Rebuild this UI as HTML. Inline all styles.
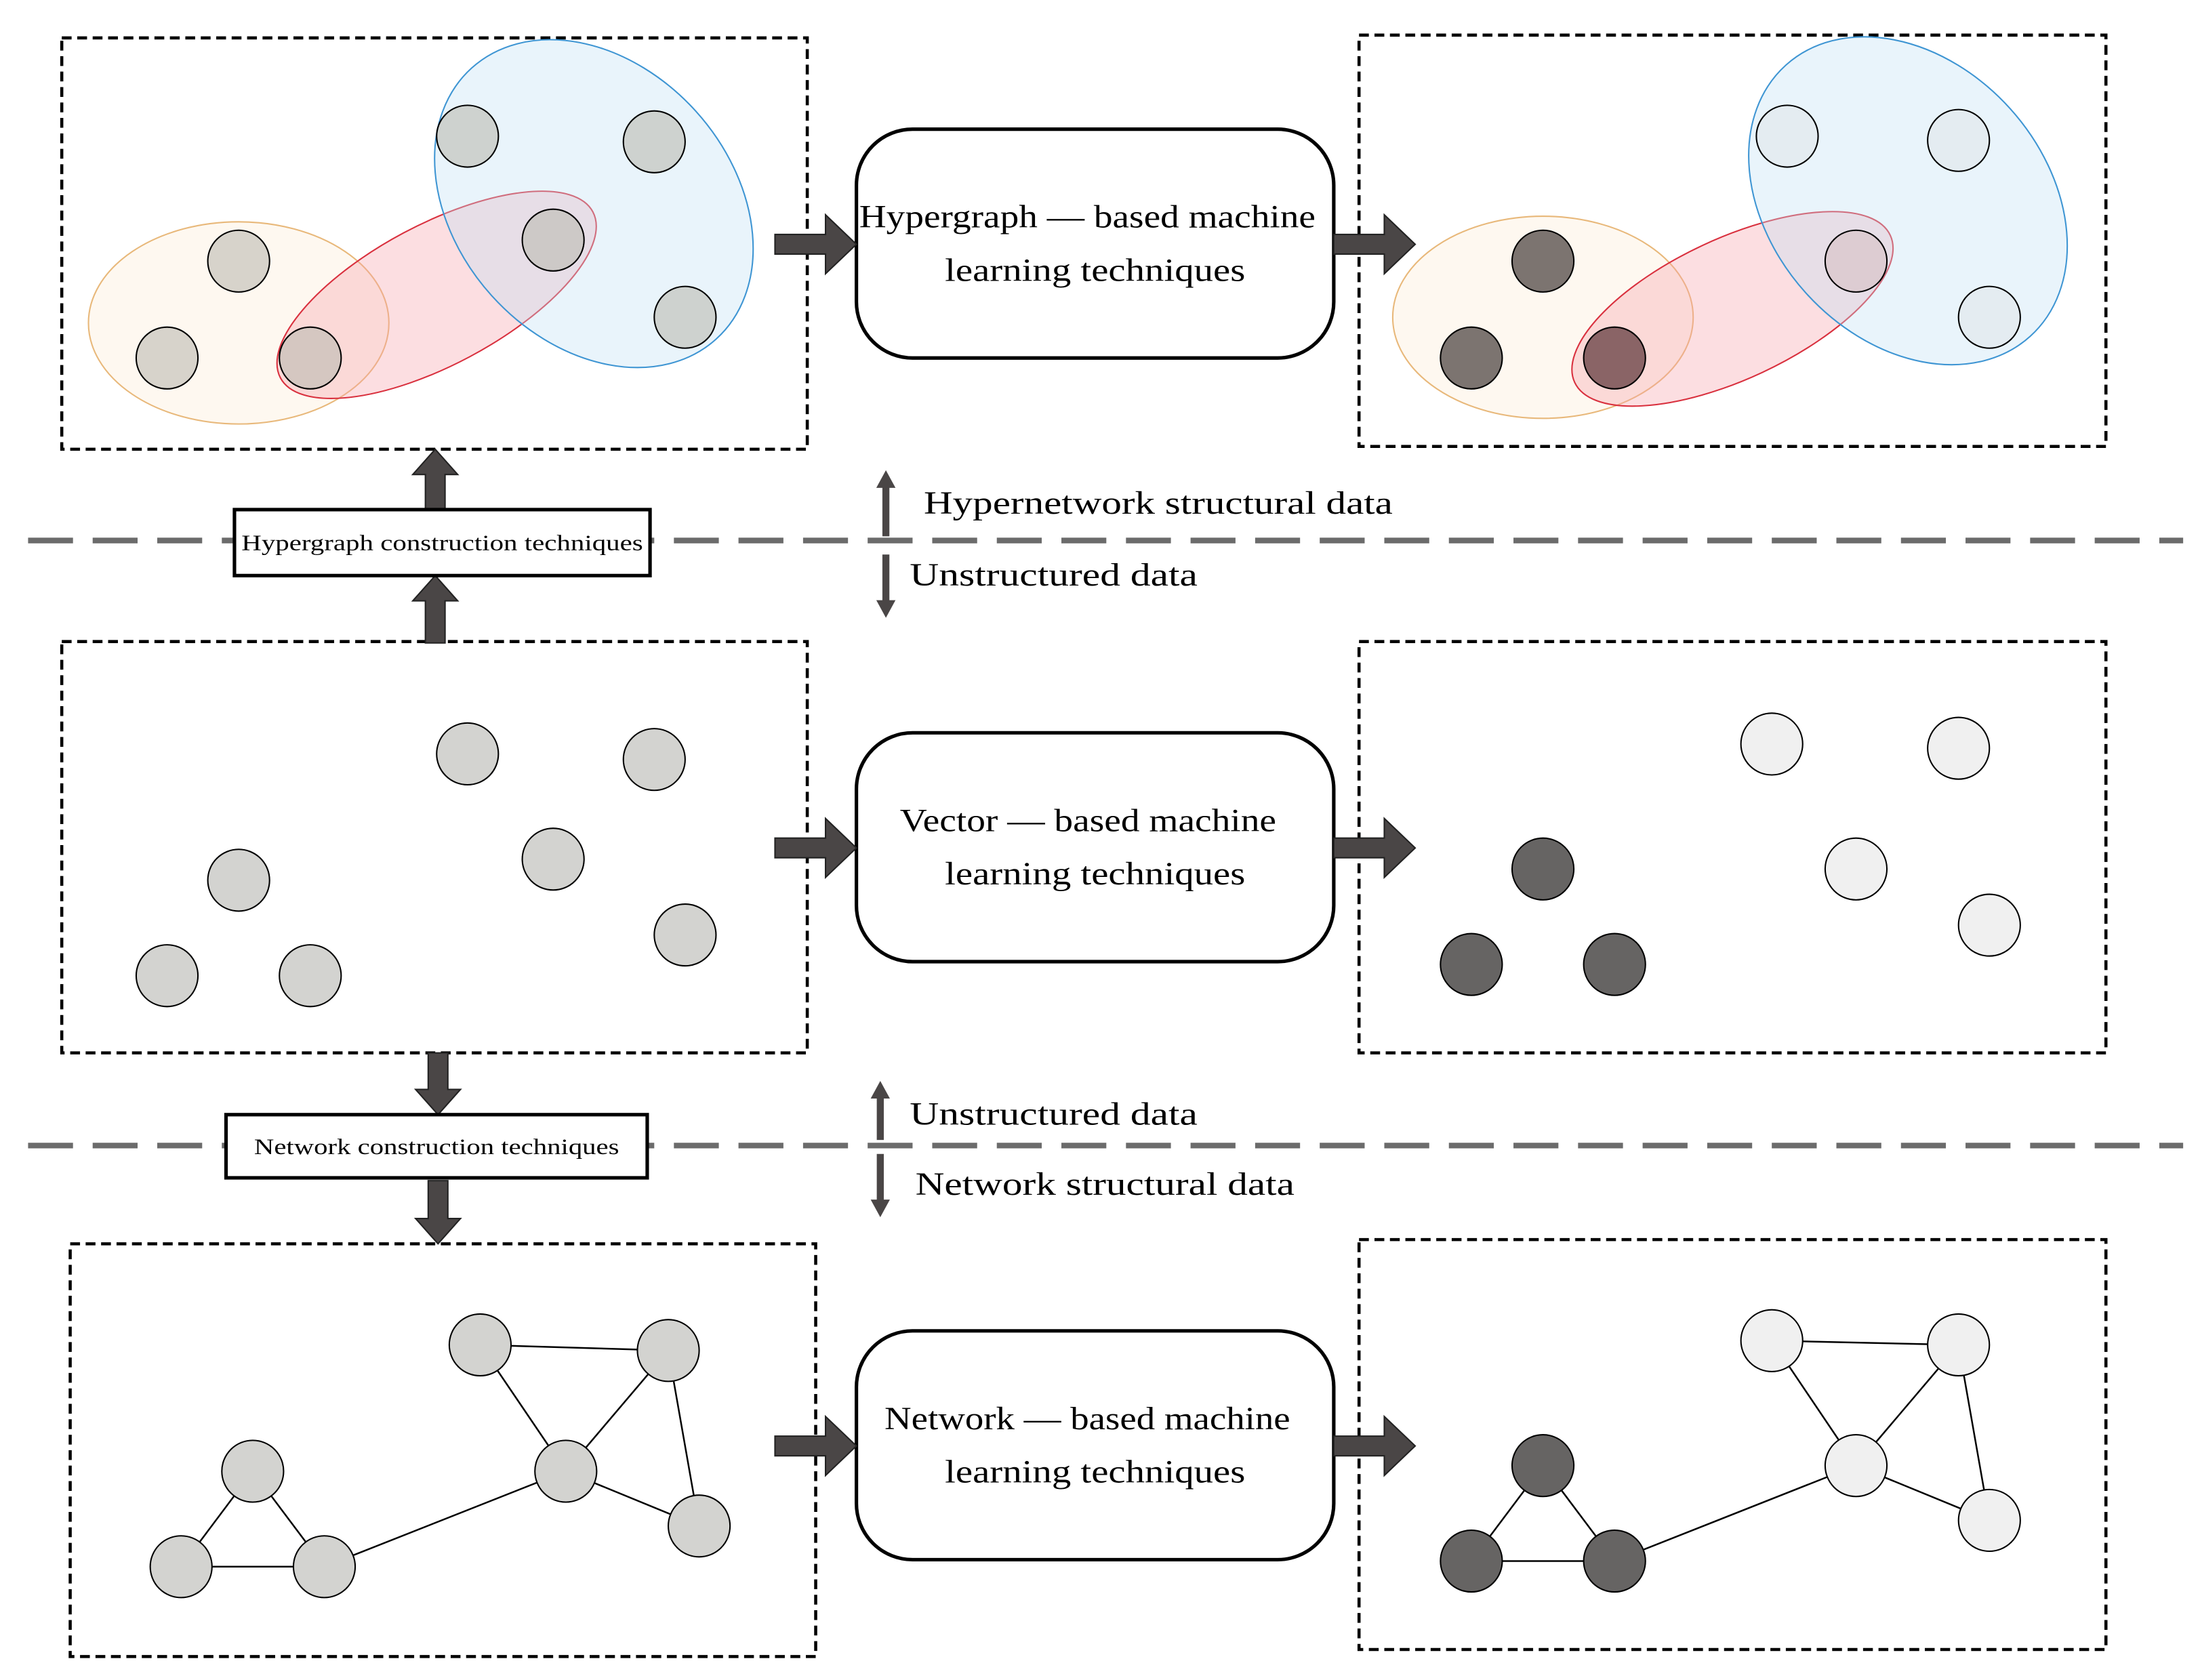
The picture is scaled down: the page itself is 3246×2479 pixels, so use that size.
<!DOCTYPE html>
<html><head><meta charset="utf-8"><style>html,body{margin:0;padding:0;background:#fff}svg{display:block}</style></head>
<body>
<svg width="3246" height="2479" viewBox="0 0 1567 1196.7" xmlns="http://www.w3.org/2000/svg" font-family="'Liberation Serif', serif">
<defs>
<g id="fatR"><polygon points="0,-7 36,-7 36,-21 58,0 36,21 36,7 0,7" fill="#4a4646" stroke="#222" stroke-width="1"/></g>
</defs>
<g fill="none" stroke="#000" stroke-width="2.2" stroke-dasharray="7,4">
<rect x="44" y="27" width="531" height="293"/>
<rect x="968" y="25" width="532" height="293"/>
<rect x="44" y="457" width="531" height="293"/>
<rect x="968" y="457" width="532" height="293"/>
<rect x="50" y="886" width="531" height="294"/>
<rect x="968" y="883" width="532" height="292"/>
</g>
<g stroke="#6b6b6b" stroke-width="4" stroke-dasharray="32,14">
<line x1="20" y1="385" x2="1555" y2="385"/>
<line x1="20" y1="816" x2="1555" y2="816"/>
</g>
<g fill="#fff" stroke="#000" stroke-width="2.5">
<rect x="610" y="92" width="340" height="163" rx="40"/>
<rect x="610" y="522" width="340" height="163" rx="40"/>
<rect x="610" y="948" width="340" height="163" rx="40"/>
</g>
<g font-size="23" fill="#000" lengthAdjust="spacingAndGlyphs">
<text x="612" y="162" textLength="325" lengthAdjust="spacingAndGlyphs">Hypergraph — based machine</text>
<text x="673" y="200" textLength="214" lengthAdjust="spacingAndGlyphs">learning techniques</text>
<text x="641" y="592" textLength="268" lengthAdjust="spacingAndGlyphs">Vector — based machine</text>
<text x="673" y="630" textLength="214" lengthAdjust="spacingAndGlyphs">learning techniques</text>
<text x="630" y="1018" textLength="289" lengthAdjust="spacingAndGlyphs">Network — based machine</text>
<text x="673" y="1056" textLength="214" lengthAdjust="spacingAndGlyphs">learning techniques</text>
</g>
<use href="#fatR" x="552" y="174"/><use href="#fatR" x="950" y="174"/>
<use href="#fatR" x="552" y="604"/><use href="#fatR" x="950" y="604"/>
<use href="#fatR" x="552" y="1030"/><use href="#fatR" x="950" y="1030"/>
<g fill="#4a4646" stroke="#222" stroke-width="1">
<polygon points="303,363 303,338 294,338 310,320 326,338 317,338 317,363"/>
<polygon points="303,458 303,428 294,428 310,410 326,428 317,428 317,458"/>
<polygon points="305,750 305,776 296,776 312,794 328,776 319,776 319,750"/>
<polygon points="305,841 305,868 296,868 312,886 328,868 319,868 319,841"/>
</g>
<rect x="167" y="363" width="296" height="47" fill="#fff" stroke="#000" stroke-width="2.5"/>
<text x="172" y="392" font-size="16" textLength="286" lengthAdjust="spacingAndGlyphs">Hypergraph construction techniques</text>
<rect x="161" y="794" width="300" height="45" fill="#fff" stroke="#000" stroke-width="2.5"/>
<text x="181" y="822" font-size="16" textLength="260" lengthAdjust="spacingAndGlyphs">Network construction techniques</text>
<g fill="#4a4646" stroke="#4a4646">
<line x1="631" y1="382" x2="631" y2="346" stroke-width="5"/><polygon points="625,347 637,347 631,336"/>
<line x1="631" y1="395" x2="631" y2="429" stroke-width="5"/><polygon points="625,428 637,428 631,439"/>
<line x1="627" y1="812" x2="627" y2="781" stroke-width="5"/><polygon points="621,782 633,782 627,771"/>
<line x1="627" y1="822" x2="627" y2="856" stroke-width="5"/><polygon points="621,855 633,855 627,866"/>
</g>
<g font-size="23" fill="#000">
<text x="658" y="366" textLength="334" lengthAdjust="spacingAndGlyphs">Hypernetwork structural data</text>
<text x="648" y="417" textLength="205" lengthAdjust="spacingAndGlyphs">Unstructured data</text>
<text x="648" y="801" textLength="205" lengthAdjust="spacingAndGlyphs">Unstructured data</text>
<text x="652" y="851" textLength="270" lengthAdjust="spacingAndGlyphs">Network structural data</text>
</g>
<g stroke-width="1">
<ellipse cx="170" cy="230" rx="107" ry="72" fill="#fdf3e6" fill-opacity="0.6" stroke="#e8b87a"/>
<ellipse cx="311" cy="210" rx="126" ry="50" transform="rotate(-28 311 210)" fill="#f5a0a8" fill-opacity="0.35" stroke="#d9303e"/>
<ellipse cx="423" cy="145" rx="98" ry="130" transform="rotate(-42 423 145)" fill="#bfdff3" fill-opacity="0.35" stroke="#3e95d3"/>
<ellipse cx="1099" cy="226" rx="107" ry="72" fill="#fdf3e6" fill-opacity="0.6" stroke="#e8b87a"/>
<ellipse cx="1234" cy="220" rx="124" ry="50" transform="rotate(-25 1234 220)" fill="#f5a0a8" fill-opacity="0.35" stroke="#d9303e"/>
<ellipse cx="1359" cy="143" rx="98" ry="130" transform="rotate(-42 1359 143)" fill="#bfdff3" fill-opacity="0.35" stroke="#3e95d3"/>
</g>
<g stroke="#000" stroke-width="1" fill="#bdbab3" fill-opacity="0.6">
<circle cx="170" cy="186" r="22"/><circle cx="119" cy="255" r="22"/><circle cx="221" cy="255" r="22"/>
<circle cx="333" cy="97" r="22"/><circle cx="466" cy="101" r="22"/><circle cx="394" cy="171" r="22"/><circle cx="488" cy="226" r="22"/>
</g>
<g stroke="#000" stroke-width="1">
<circle cx="1099" cy="186" r="22" fill="#7c7470"/><circle cx="1048" cy="255" r="22" fill="#7c7470"/><circle cx="1150" cy="255" r="22" fill="#8a6466"/>
<circle cx="1273" cy="97" r="22" fill="#e4ecf1"/><circle cx="1395" cy="100" r="22" fill="#e4ecf1"/><circle cx="1322" cy="186" r="22" fill="#ddccd2"/><circle cx="1417" cy="226" r="22" fill="#e4ecf1"/>
</g>
<g stroke="#000" stroke-width="1" fill="#d3d3d0">
<circle cx="333" cy="537" r="22"/><circle cx="466" cy="541" r="22"/><circle cx="170" cy="627" r="22"/>
<circle cx="394" cy="612" r="22"/><circle cx="488" cy="666" r="22"/><circle cx="119" cy="695" r="22"/><circle cx="221" cy="695" r="22"/>
</g>
<g stroke="#000" stroke-width="1" fill="#f0f0f0">
<circle cx="1262" cy="530" r="22"/><circle cx="1395" cy="533" r="22"/><circle cx="1322" cy="619" r="22"/><circle cx="1417" cy="659" r="22"/>
</g>
<g stroke="#000" stroke-width="1" fill="#666463">
<circle cx="1099" cy="619" r="22"/><circle cx="1048" cy="687" r="22"/><circle cx="1150" cy="687" r="22"/>
</g>
<g stroke="#000" stroke-width="1.2">
<line x1="180" y1="1048" x2="129" y2="1116"/><line x1="180" y1="1048" x2="231" y2="1116"/><line x1="129" y1="1116" x2="231" y2="1116"/>
<line x1="231" y1="1116" x2="403" y2="1048"/><line x1="403" y1="1048" x2="342" y2="958"/><line x1="403" y1="1048" x2="476" y2="962"/>
<line x1="342" y1="958" x2="476" y2="962"/><line x1="403" y1="1048" x2="498" y2="1087"/><line x1="476" y1="962" x2="498" y2="1087"/>
<line x1="1099" y1="1044" x2="1048" y2="1112"/><line x1="1099" y1="1044" x2="1150" y2="1112"/><line x1="1048" y1="1112" x2="1150" y2="1112"/>
<line x1="1150" y1="1112" x2="1322" y2="1044"/><line x1="1322" y1="1044" x2="1262" y2="955"/><line x1="1322" y1="1044" x2="1395" y2="958"/>
<line x1="1262" y1="955" x2="1395" y2="958"/><line x1="1322" y1="1044" x2="1417" y2="1083"/><line x1="1395" y1="958" x2="1417" y2="1083"/>
</g>
<g stroke="#000" stroke-width="1" fill="#d3d3d0">
<circle cx="342" cy="958" r="22"/><circle cx="476" cy="962" r="22"/><circle cx="180" cy="1048" r="22"/>
<circle cx="403" cy="1048" r="22"/><circle cx="498" cy="1087" r="22"/><circle cx="129" cy="1116" r="22"/><circle cx="231" cy="1116" r="22"/>
</g>
<g stroke="#000" stroke-width="1" fill="#f0f0f0">
<circle cx="1262" cy="955" r="22"/><circle cx="1395" cy="958" r="22"/><circle cx="1322" cy="1044" r="22"/><circle cx="1417" cy="1083" r="22"/>
</g>
<g stroke="#000" stroke-width="1" fill="#666463">
<circle cx="1099" cy="1044" r="22"/><circle cx="1048" cy="1112" r="22"/><circle cx="1150" cy="1112" r="22"/>
</g>
</svg>
</body></html>
